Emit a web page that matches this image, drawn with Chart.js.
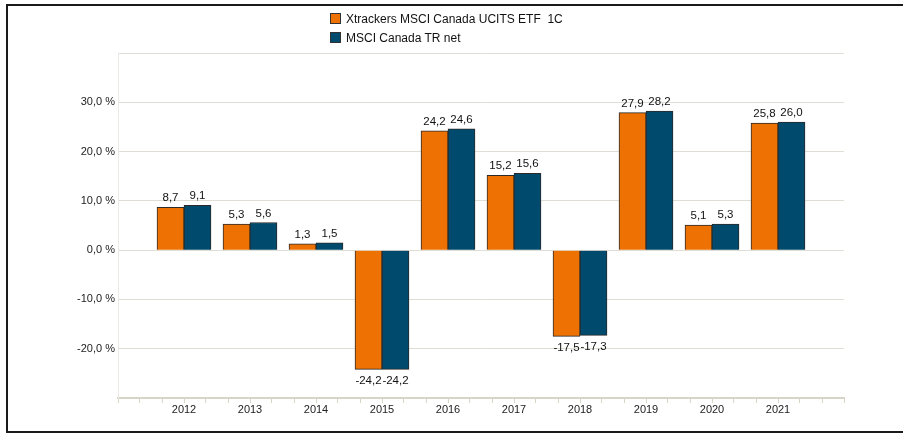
<!DOCTYPE html>
<html>
<head>
<meta charset="utf-8">
<script src="https://cdn.jsdelivr.net/npm/chart.js@4.4.0/dist/chart.umd.min.js"></script>
<style>
  html, body { margin: 0; padding: 0; background: #fff; overflow: hidden; }
  #wrap { position: relative; width: 903px; height: 435px; }
  #frame { position: absolute; left: 6px; top: 4px; width: 1000px; height: 425px; border: 2px solid #1a1a1a; }
  #myChartx { position: absolute; left: 0; top: 0; }
  #legend { position: absolute; left: 330px; top: 10px; font: 12px "Liberation Sans", Arial, sans-serif; color: #111; }
  .row { height: 19px; line-height: 19px; white-space: pre; }
  .sw { display: inline-block; width: 9px; height: 9px; border: 1px solid #333; margin-right: 5px; vertical-align: -1px; }
</style>
</head>
<body>
<div id="wrap">
  <div id="frame"></div>
  <canvas id="myChartx" width="903" height="435"></canvas>
  <div id="legend"></div>
</div>
<script>
// data
var years = [2012, 2013, 2014, 2015, 2016, 2017, 2018, 2019, 2020, 2021];
var etfName = 'Xtrackers MSCI Canada UCITS ETF  1C';
var etfValues = [8.7, 5.3, 1.3, -24.2, 24.2, 15.2, -17.5, 27.9, 5.1, 25.8];
var indexName = 'MSCI Canada TR net';
var indexValues = [9.1, 5.6, 1.5, -24.2, 24.6, 15.6, -17.3, 28.2, 5.3, 26.0];

var orange = '#ee7203';
var blue = '#004a6d';
var gridCol = '#e0ddd4';

function fmt(v) { return v.toFixed(1).replace('.', ','); }

// html legend, two rows
var lg = document.getElementById('legend');
[[etfName, orange], [indexName, blue]].forEach(function (it) {
  var r = document.createElement('div');
  r.className = 'row';
  var s = document.createElement('span');
  s.className = 'sw';
  s.style.background = it[1];
  r.appendChild(s);
  r.appendChild(document.createTextNode(it[0]));
  lg.appendChild(r);
});

// values over / under the bars
var valueLabels = {
  id: 'valueLabels',
  afterDatasetsDraw: function (chart) {
    var ctx = chart.ctx;
    ctx.save();
    ctx.font = '11.5px "Liberation Sans", Arial, sans-serif';
    ctx.fillStyle = '#111';
    ctx.textAlign = 'center';
    ctx.textBaseline = 'alphabetic';
    chart.data.datasets.forEach(function (ds, di) {
      var meta = chart.getDatasetMeta(di);
      meta.data.forEach(function (bar, i) {
        var v = ds.data[i].y;
        if (v >= 0) ctx.fillText(fmt(v), bar.x, bar.y - 6);
        else ctx.fillText(fmt(v), bar.x, bar.y + 15);
      });
    });
    ctx.restore();
  }
};

function points(vals) {
  return years.map(function (y, i) { return { x: y, y: vals[i] }; });
}

var ctx = document.getElementById('myChartx').getContext('2d');
var myChart = new Chart(ctx, {
  type: 'bar',
  data: {
    datasets: [{
      label: etfName,
      data: points(etfValues),
      backgroundColor: orange,
      borderColor: '#2a2a2a',
      borderWidth: 1,
      barThickness: 27
    }, {
      label: indexName,
      data: points(indexValues),
      backgroundColor: blue,
      borderColor: '#2a2a2a',
      borderWidth: 1,
      barThickness: 27
    }]
  },
  options: {
    responsive: false,
    animation: false,
    layout: { padding: { left: 0, right: 59, top: 53, bottom: 14 } },
    plugins: {
      legend: { display: false },
      tooltip: { enabled: false }
    },
    scales: {
      x: {
        type: 'linear',
        offset: false,
        min: years[0] - 1,
        max: years[years.length - 1] + 1,
        afterBuildTicks: function (scale) {
          var t = [];
          for (var i = 0; i <= (scale.max - scale.min) * 3; i++) t.push({ value: scale.min + i / 3 });
          scale.ticks = t;
        },
        afterFit: function (scale) { scale.height = 23; },
        ticks: {
          autoSkip: false,
          maxRotation: 0,
          padding: 0,
          color: '#222',
          font: { family: '"Liberation Sans", Arial, sans-serif', size: 11 },
          callback: function (v, idx) {
            if (idx % 3 !== 0) return '';
            var yr = Math.round(v);
            return years.indexOf(yr) >= 0 ? String(yr) : '';
          }
        },
        grid: { offset: false, drawOnChartArea: false, drawTicks: true, tickLength: 5, color: '#d8d4c8', lineWidth: 1 },
        border: { color: '#d8d4c8', width: 2 }
      },
      y: {
        min: -30,
        max: 40,
        afterFit: function (scale) { scale.width = 118; },
        ticks: {
          stepSize: 10,
          padding: 3,
          color: '#222',
          font: { family: '"Liberation Sans", Arial, sans-serif', size: 11 },
          callback: function (v) { return (v === 40 || v === -30) ? '' : fmt(v) + ' %'; }
        },
        grid: { color: gridCol, lineWidth: 1, drawTicks: false },
        border: { color: '#eceae4', width: 1 }
      }
    }
  },
  plugins: [valueLabels]
});
</script>
</body>
</html>
